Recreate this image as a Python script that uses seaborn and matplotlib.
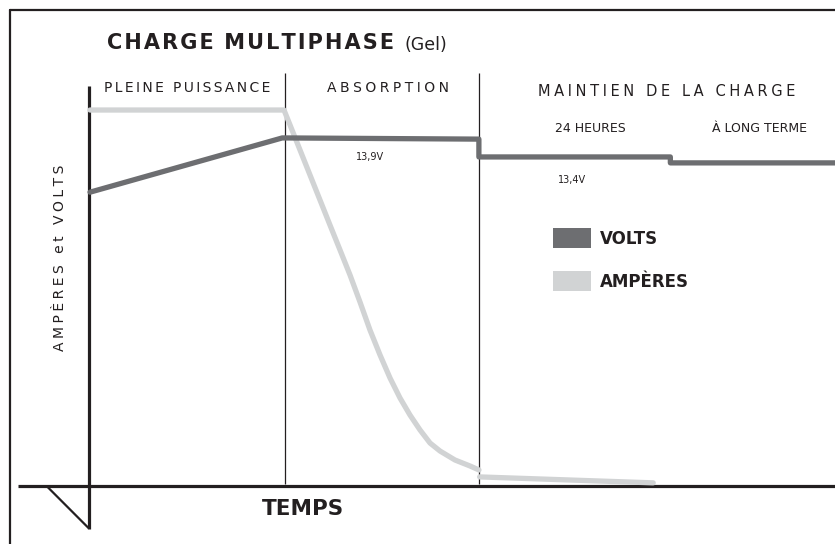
import numpy as np
import pandas as pd
import matplotlib
matplotlib.use("Agg")
import matplotlib.pyplot as plt
import seaborn as sns
from matplotlib.lines import Line2D
from matplotlib.patches import Rectangle

# ---------------- data (time axis 0-100 %, level 0-100 %) ----------------
volts_t = [0.0, 25.8, 26.2, 52.2, 52.2, 77.9, 77.9, 100.0]
volts_v = [74.7, 88.4, 88.4, 88.1, 83.6, 83.6, 82.1, 82.1]

amps_t_charge = [0.0, 26.04, 26.85, 28.19, 29.53, 30.87, 32.21, 33.56, 34.90, 36.24,
                 37.58, 38.93, 40.27, 41.61, 42.95, 44.30, 45.64, 46.98, 48.99, 51.01, 52.21]
amps_v_charge = [95.45, 95.45, 91.67, 85.35, 79.04, 72.73, 66.41, 60.10, 53.79, 46.97,
                 39.90, 33.59, 27.78, 22.73, 18.43, 14.65, 11.36, 9.34, 7.07, 5.56, 4.55]
amps_t_float = [52.3, 75.6]
amps_v_float = [2.8, 1.3]

phase_bounds = [26.2, 52.2]
phase_labels = ["PLEINE PUISSANCE", "ABSORPTION", "MAINTIEN DE LA CHARGE"]
float_labels = ["24 HEURES", "À LONG TERME"]
volt_labels = ["13,9V", "13,4V"]
legend_labels = ["VOLTS", "AMPÈRES"]

VOLT_C = "#6d6e71"
AMP_C = "#d1d3d4"
INK = "#231f20"

W, H = 835, 544
sns.set_theme(style="white")
plt.rcParams["font.family"] = ["DejaVu Sans"]

fig = plt.figure(figsize=(W / 100, H / 100), dpi=100)
ax = fig.add_axes([0, 0, 1, 1])
# mapping: pixel x 90 -> 0, 835 -> 100 ; pixel y 488 -> 0, 92 -> 100
sx, sy = 7.45, 3.96
ax.set_xlim((0 - 90) / sx, (835 - 90) / sx)
ax.set_ylim((488 - 544) / sy, (488 - 0) / sy)
ax.axis("off")

def px(x, y):
    return x / W, 1 - y / H

def spaced(s, sep="\u2009"):
    return sep.join(list(s))

# phase separators
for b in phase_bounds:
    ax.plot([b, b], [(488 - 73) / sy, (488 - 484) / sy], color=INK, lw=0.9, solid_capstyle="butt")

# axes lines
ax.plot([(18 - 90) / sx, 100], [0.4, 0.4], color=INK, lw=2.3, solid_capstyle="butt")
ax.plot([-0.2, -0.2], [(488 - 86) / sy, (488 - 529) / sy], color=INK, lw=2.3, solid_capstyle="butt")
ax.plot([(47 - 90) / sx, -0.2], [0.4, (488 - 528) / sy], color=INK, lw=1.6)

# series
sns.lineplot(x=amps_t_charge, y=amps_v_charge, ax=ax, color=AMP_C, lw=3.8,
             sort=False, estimator=None)
sns.lineplot(x=amps_t_float, y=amps_v_float, ax=ax, color=AMP_C, lw=3.8,
             sort=False, estimator=None)
sns.lineplot(x=volts_t, y=volts_v, ax=ax, color=VOLT_C, lw=3.8,
             sort=False, estimator=None)
for l in ax.lines[-3:]:
    l.set_solid_joinstyle("round")

# frame (top & left only)
fig.add_artist(Line2D([10 / W, 10 / W], [0, 1 - 10 / H], color=INK, lw=1.6))
fig.add_artist(Line2D([10 / W, 1], [1 - 10 / H, 1 - 10 / H], color=INK, lw=1.6))

# title
fig.text(*px(107, 43), spaced("CHARGE", "\u200a") + "\u2005\u2005" + spaced("MULTIPHASE", "\u200a"),
         fontsize=15, fontweight="bold", color=INK, ha="left", va="center")
fig.text(*px(404, 45), "(Gel)", fontsize=12.5, color=INK, ha="left", va="center")

# phase labels
fig.text(*px(187, 88), spaced(phase_labels[0], "\u2006"), fontsize=10, color=INK, ha="center", va="center")
fig.text(*px(388, 88), spaced(phase_labels[1], "\u2005"), fontsize=10, color=INK, ha="center", va="center")
fig.text(*px(667, 91), spaced(phase_labels[2], "\u2005"), fontsize=10.5, color=INK, ha="center", va="center")
fig.text(*px(590, 128), float_labels[0], fontsize=9, color=INK, ha="center", va="center")
fig.text(*px(760, 128), float_labels[1], fontsize=9, color=INK, ha="center", va="center")
fig.text(*px(370, 157), volt_labels[0], fontsize=7, color=INK, ha="center", va="center")
fig.text(*px(572, 180), volt_labels[1], fontsize=7, color=INK, ha="center", va="center")

# legend
for (y0, c, lab) in [(228, VOLT_C, legend_labels[0]), (271, AMP_C, legend_labels[1])]:
    fig.add_artist(Rectangle(px(553, y0 + 20), 38 / W, 20 / H, color=c, lw=0))
    fig.text(*px(600, y0 + 11), lab, fontsize=12, fontweight="bold", color=INK, ha="left", va="center")

# axis titles
fig.text(*px(60, 258), spaced("AMPÈRES et VOLTS", "\u2005"), fontsize=10, color=INK, rotation=90,
         ha="center", va="center")
fig.text(*px(303, 509), "TEMPS", fontsize=15.5, fontweight="bold", color=INK, ha="center", va="center")

fig.savefig("out.png", dpi=100)
